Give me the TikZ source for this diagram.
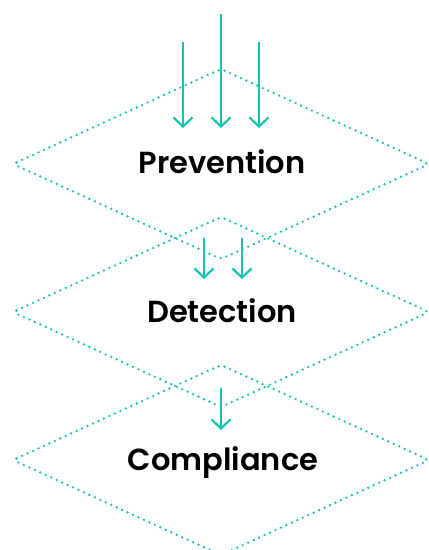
\documentclass[tikz,border=0pt]{standalone}
\usepackage{fontspec}
\newfontfamily\labfont{Poppins}[UprightFont={* SemiBold}]
\usetikzlibrary{arrows.meta}
\definecolor{teal}{RGB}{20,196,178}
\tikzset{
  layer/.style={draw=teal, line width=2.6pt, line cap=round,
    dash pattern=on 0pt off 6pt, rounded corners=4pt},
  flow/.style={draw=teal, line width=2.2pt,
    -{Straight Barb[length=9pt,width=19pt,line width=2.2pt]}},
  label/.style={font=\labfont\fontsize{30.5}{33}\selectfont, text=black,
    inner sep=0pt, anchor=base}
}
\begin{document}
\begin{tikzpicture}[x=1pt,y=-1pt]
\useasboundingbox (0,0) rectangle (429,550);
% three stacked layers
\foreach \cy in {164,312,460}{
  \draw[layer] (13,\cy) -- (221,\cy-95) -- (429,\cy) -- (221,\cy+95) -- cycle;
}
\node[label] (prev) at (222,173) {Prevention};
\node[label] (det)  at (222,322) {Detection};
\node[label] (comp) at (223,470) {Compliance};
% inflow into the first layer
\coordinate (a1s) at (183,42);  \coordinate (a1e) at (183,128);
\coordinate (a2s) at (221,14);  \coordinate (a2e) at (221,128);
\coordinate (a3s) at (259,42);  \coordinate (a3e) at (259,128);
\draw[flow] (a1s) -- (a1e);
\draw[flow] (a2s) -- (a2e);
\draw[flow] (a3s) -- (a3e);
% what passes to the second layer
\coordinate (b1s) at (204,238); \coordinate (b1e) at (204,279);
\coordinate (b2s) at (242,238); \coordinate (b2e) at (242,279);
\draw[flow] (b1s) -- (b1e);
\draw[flow] (b2s) -- (b2e);
% what passes to the third layer
\coordinate (c1s) at (221,388); \coordinate (c1e) at (221,430);
\draw[flow] (c1s) -- (c1e);
\end{tikzpicture}
\end{document}
